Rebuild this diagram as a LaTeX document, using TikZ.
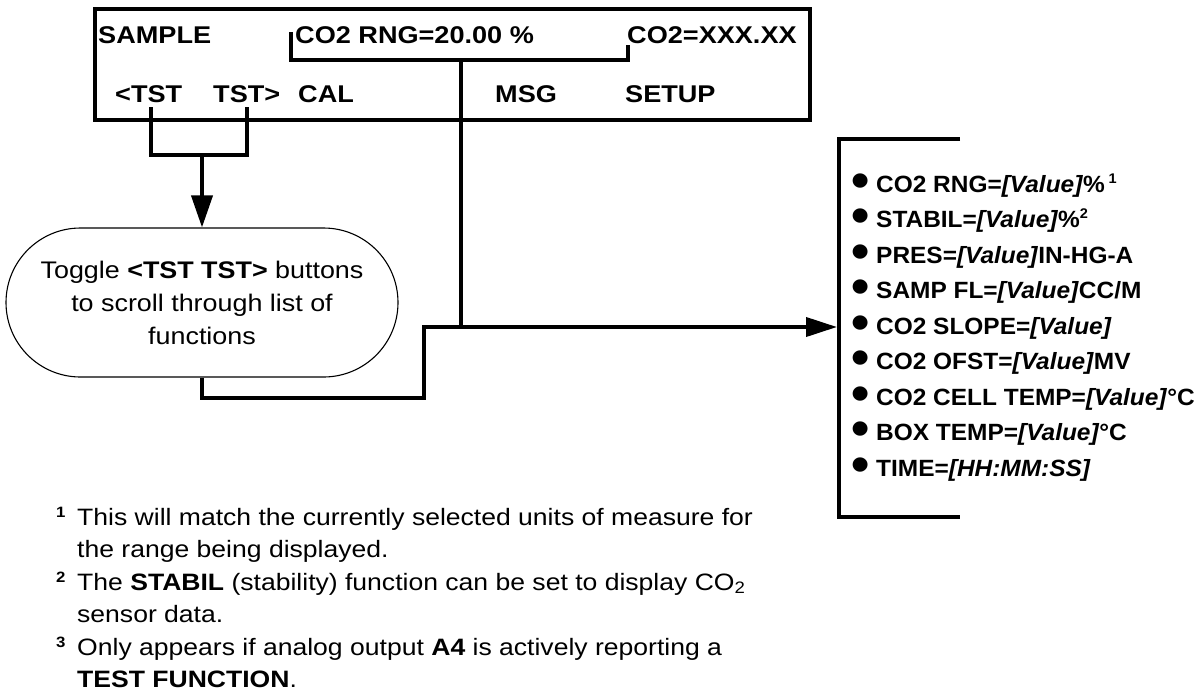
\documentclass[tikz,border=0pt]{standalone}
\usepackage{fontspec}
\setmainfont{Liberation Sans}[FakeStretch=1.12]
\newfontfamily\listfont{Liberation Sans}[FakeStretch=1.04]
\usetikzlibrary{arrows.meta}
\newcommand\listbul{\makebox[25pt][l]{\smash{\raisebox{-5pt}{\fontsize{50}{50}\selectfont •}}}}
\newcommand\listsup[1]{\raisebox{9pt}{\fontsize{14}{14}\selectfont #1}}
\begin{document}
\begin{tikzpicture}[x=1pt,y=-1pt,
  wire/.style={line width=3.8pt},
  bracketline/.style={line width=4.8pt},
  screenbox/.style={draw, line width=3.8pt, inner sep=0pt},
  scr/.style={inner sep=0pt, anchor=base west, font=\fontsize{24.2}{28}\selectfont\bfseries},
  pill/.style={draw, line width=1.1pt, rounded corners=74.5pt, align=center, inner sep=0pt,
     font=\fontsize{24}{33}\selectfont},
  listitem/.style={inner sep=0pt, anchor=base west, font=\listfont\fontsize{23.5}{28}\selectfont\bfseries},
  fn/.style={inner sep=0pt, anchor=base west, font=\fontsize{23.7}{28}\selectfont},
  fnmark/.style={inner sep=0pt, anchor=base west, font=\fontsize{15}{16}\selectfont\bfseries},
  headdown/.style={-{Triangle[length=32pt,width=21pt]}},
  headright/.style={-{Triangle[length=31pt,width=19pt]}}
]
\useasboundingbox (0,0) rectangle (1204,694);

% display screen
\node[screenbox, anchor=north west, minimum width=715pt, minimum height=111pt] (screen) at (93,7) {};
\node[scr] (sample) at (98,43) {SAMPLE};
\node[scr] (rng) at (295,43) {CO2 RNG=20.00 \%};
\node[scr] (co2) at (627,43) {CO2=XXX.XX};
\node[scr] (tstl) at (115,102) {<TST};
\node[scr] (tstr) at (213,102) {TST>};
\node[scr] (cal) at (298,102) {CAL};
\node[scr] (msg) at (495,102) {MSG};
\node[scr] (setup) at (625,102) {SETUP};

% bracket under CO2 RNG line
\coordinate (r1) at (291,32);
\coordinate (r2) at (291,60);
\coordinate (r3) at (628,60);
\coordinate (r4) at (628,45);
\coordinate (jv) at (461,60);
\coordinate (jh) at (461,327);
\draw[wire] (r1) -- (r2) -- (r3) -- (r4);
\draw[wire] (jv) -- (jh);

% toggle node
\node[pill, minimum width=392pt, minimum height=149pt] (toggle) at (202,302.5)
  {Toggle \textbf{<TST TST>} buttons\\to scroll through list of\\functions};

% TST connectors
\coordinate (t1) at (151,107);
\coordinate (t2) at (151,155);
\coordinate (t3) at (247,155);
\coordinate (t4) at (247,107);
\coordinate (tm) at (202,155);
\draw[wire] (t1) -- (t2) -- (t3) -- (t4);
\draw[wire, headdown] (tm) -- (toggle.north);

% list of functions
\node[listitem] (l1) at (851,192) {\listbul CO2 RNG=\textit{[Value]}\%\,\listsup{1}};
\node[listitem] (l2) at (851,227.5) {\listbul STABIL=\textit{[Value]}\%\listsup{2}};
\node[listitem] (l3) at (851,263) {\listbul PRES=\textit{[Value]}IN-HG-A};
\node[listitem] (l4) at (851,298.5) {\listbul SAMP FL=\textit{[Value]}CC/M};
\node[listitem] (l5) at (851,334) {\listbul CO2 SLOPE=\textit{[Value]}};
\node[listitem] (l6) at (851,369.5) {\listbul CO2 OFST=\textit{[Value]}MV};
\node[listitem] (l7) at (851,405) {\listbul CO2 CELL TEMP=\textit{[Value]}°C};
\node[listitem] (l8) at (851,440.5) {\listbul BOX TEMP=\textit{[Value]}°C};
\node[listitem] (l9) at (851,476) {\listbul TIME=\textit{[HH:MM:SS]}};

\coordinate (b1) at (960,139);
\coordinate (b2) at (839,139);
\coordinate (b3) at (839,517);
\coordinate (b4) at (960,517);
\draw[bracketline] (b1) -- (b2) -- (b3) -- (b4);

% connector from toggle to list
\coordinate (c1) at (202,398);
\coordinate (c2) at (424,398);
\coordinate (c3) at (424,327);
\coordinate (listtip) at (837,327);
\draw[wire, headright] (toggle.south) -- (c1) -- (c2) -- (c3) -- (listtip);

% footnotes
\node[fnmark] (m1) at (56,517) {1};
\node[fn] (f1a) at (77,525) {This will match the currently selected units of measure for};
\node[fn] (f1b) at (77,557) {the range being displayed.};
\node[fnmark] (m2) at (56,582) {2};
\node[fn] (f2a) at (77,590) {The \textbf{STABIL} (stability) function can be set to display CO\textsubscript{2}};
\node[fn] (f2b) at (77,622) {sensor data.};
\node[fnmark] (m3) at (56,647) {3};
\node[fn] (f3a) at (77,655) {Only appears if analog output \textbf{A4} is actively reporting a};
\node[fn] (f3b) at (77,687) {\textbf{TEST FUNCTION}.};
\end{tikzpicture}
\end{document}
